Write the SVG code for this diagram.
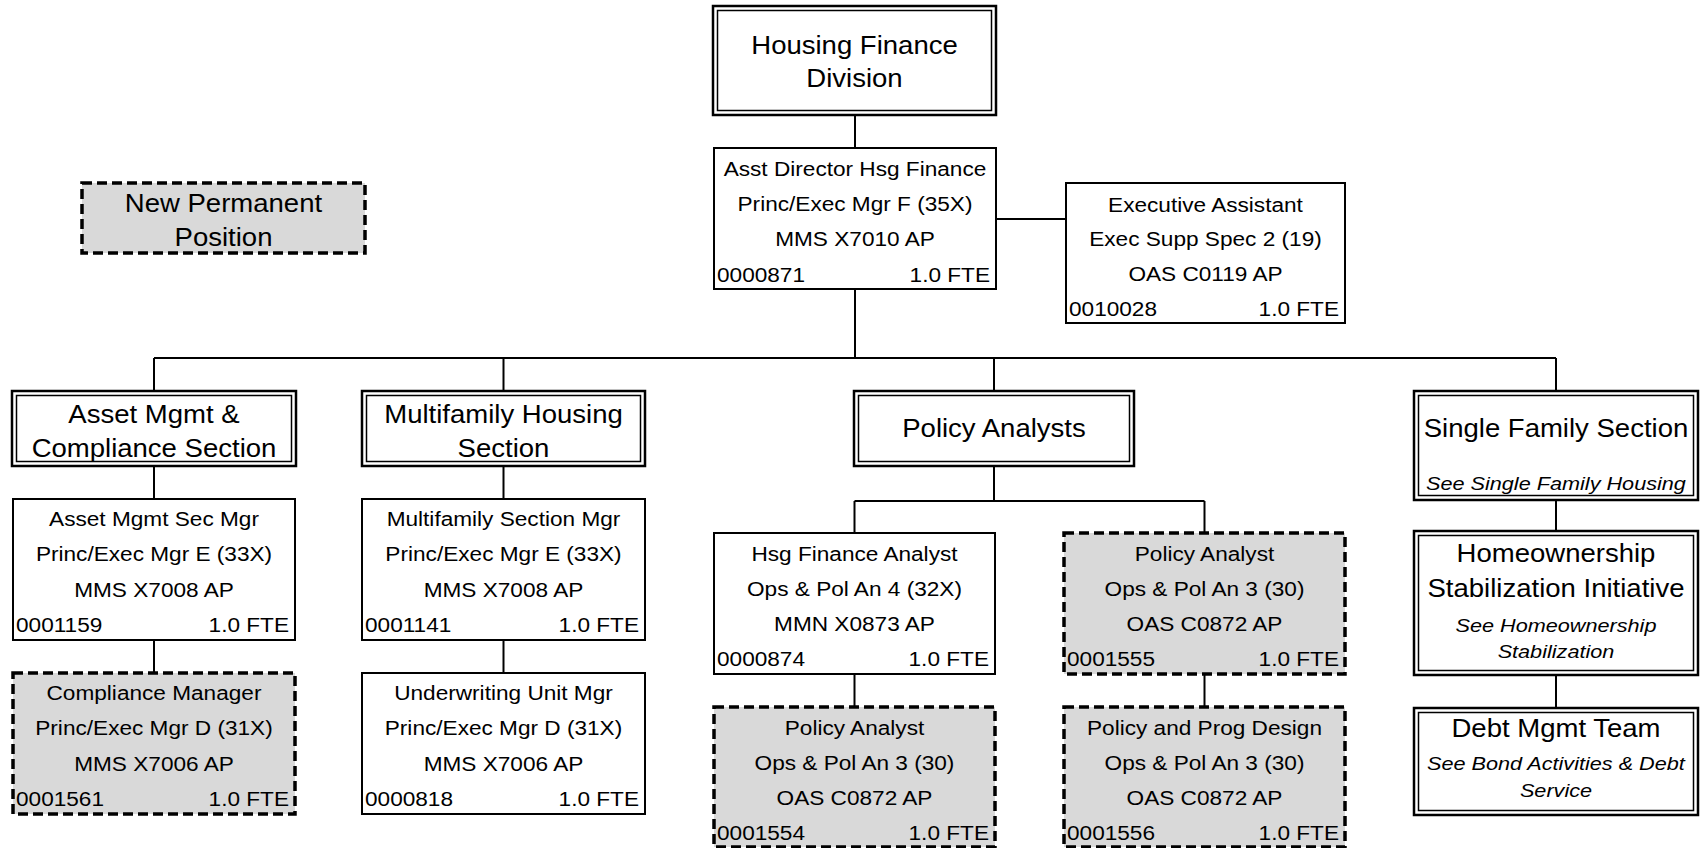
<svg xmlns="http://www.w3.org/2000/svg" width="1701" height="848" viewBox="0 0 1701 848">
<style>
text { font-family: "Liberation Sans", Arial, sans-serif; fill: #000; }
.s { font-size: 19.5px; text-anchor: middle; transform-box: fill-box; transform-origin: center; transform: scaleX(1.16); }
.sl { font-size: 19.5px; text-anchor: start; transform-box: fill-box; transform-origin: left center; transform: scaleX(1.16); }
.sr { font-size: 19.5px; text-anchor: end; transform-box: fill-box; transform-origin: right center; transform: scaleX(1.16); }
.t { font-size: 25.5px; text-anchor: middle; transform-box: fill-box; transform-origin: center; transform: scaleX(1.08); }
.i { font-size: 19px; font-style: italic; text-anchor: middle; transform-box: fill-box; transform-origin: center; transform: scaleX(1.14); }
.box { fill: #fff; stroke: #000; stroke-width: 2; }
.new { fill: #d9d9d9; stroke: #000; stroke-width: 3.5; stroke-dasharray: 10 5; }
.dbo { fill: #fff; stroke: #000; stroke-width: 2.5; }
.dbi { fill: none; stroke: #000; stroke-width: 1.5; }
.conn { fill: none; stroke: #000; stroke-width: 2; }
</style>

<g id="connectors" class="conn">
  <line x1="855" y1="115" x2="855" y2="148"/>
  <line x1="996" y1="219" x2="1066" y2="219"/>
  <line x1="855" y1="289" x2="855" y2="358"/>
  <line x1="154" y1="358" x2="1556" y2="358"/>
  <line x1="154" y1="358" x2="154" y2="391"/>
  <line x1="503.5" y1="358" x2="503.5" y2="391"/>
  <line x1="994" y1="358" x2="994" y2="391"/>
  <line x1="1556" y1="358" x2="1556" y2="391"/>
  <line x1="154" y1="466" x2="154" y2="499"/>
  <line x1="154" y1="640" x2="154" y2="673"/>
  <line x1="503.5" y1="466" x2="503.5" y2="499"/>
  <line x1="503.5" y1="640" x2="503.5" y2="673"/>
  <line x1="994" y1="466" x2="994" y2="501"/>
  <line x1="854.5" y1="501" x2="1204.5" y2="501"/>
  <line x1="854.5" y1="501" x2="854.5" y2="533"/>
  <line x1="1204.5" y1="501" x2="1204.5" y2="533"/>
  <line x1="854.5" y1="674" x2="854.5" y2="707"/>
  <line x1="1204.5" y1="674" x2="1204.5" y2="707"/>
  <line x1="1556" y1="500" x2="1556" y2="531"/>
  <line x1="1556" y1="675" x2="1556" y2="708"/>
</g>

<g id="housing-finance-division">
  <rect class="dbo" x="713" y="6" width="283" height="109"/>
  <rect class="dbi" x="717.5" y="10.5" width="274" height="100"/>
  <text class="t" x="854.5" y="54">Housing Finance</text>
  <text class="t" x="854.5" y="87">Division</text>
</g>

<g id="new-permanent-position">
  <rect class="new" x="82" y="183" width="283" height="70"/>
  <text class="t" x="223.5" y="212.5">New Permanent</text>
  <text class="t" x="223.5" y="246">Position</text>
</g>

<g id="asst-director">
  <rect class="box" x="714" y="148" width="282" height="141"/>
  <text class="s" x="855" y="176">Asst Director Hsg Finance</text>
  <text class="s" x="855" y="211">Princ/Exec Mgr F (35X)</text>
  <text class="s" x="855" y="246">MMS X7010 AP</text>
  <text class="sl" x="717" y="282">0000871</text>
  <text class="sr" x="990" y="282">1.0 FTE</text>
</g>

<g id="executive-assistant">
  <rect class="box" x="1066" y="183" width="279" height="140"/>
  <text class="s" x="1205.5" y="212">Executive Assistant</text>
  <text class="s" x="1205.5" y="246.5">Exec Supp Spec 2 (19)</text>
  <text class="s" x="1205.5" y="281.5">OAS C0119 AP</text>
  <text class="sl" x="1069" y="316.5">0010028</text>
  <text class="sr" x="1339" y="316.5">1.0 FTE</text>
</g>

<g id="asset-mgmt-section">
  <rect class="dbo" x="12" y="391" width="284" height="75"/>
  <rect class="dbi" x="16.5" y="395.5" width="275" height="66"/>
  <text class="t" x="154" y="423.5">Asset Mgmt &amp;</text>
  <text class="t" x="154" y="457">Compliance Section</text>
</g>

<g id="multifamily-section">
  <rect class="dbo" x="362" y="391" width="283" height="75"/>
  <rect class="dbi" x="366.5" y="395.5" width="274" height="66"/>
  <text class="t" x="503.5" y="423.5">Multifamily Housing</text>
  <text class="t" x="503.5" y="457">Section</text>
</g>

<g id="policy-analysts">
  <rect class="dbo" x="854" y="391" width="280" height="75"/>
  <rect class="dbi" x="858.5" y="395.5" width="271" height="66"/>
  <text class="t" x="994" y="437.5">Policy Analysts</text>
</g>

<g id="single-family-section">
  <rect class="dbo" x="1414" y="391" width="284" height="109"/>
  <rect class="dbi" x="1418.5" y="395.5" width="275" height="100"/>
  <text class="t" x="1556" y="437">Single Family Section</text>
  <text class="i" x="1556" y="490">See Single Family Housing</text>
</g>

<g id="asset-mgmt-sec-mgr">
  <rect class="box" x="13" y="499" width="282" height="141"/>
  <text class="s" x="154" y="526.5">Asset Mgmt Sec Mgr</text>
  <text class="s" x="154" y="561.5">Princ/Exec Mgr E (33X)</text>
  <text class="s" x="154" y="597">MMS X7008 AP</text>
  <text class="sl" x="16" y="632.5">0001159</text>
  <text class="sr" x="289" y="632.5">1.0 FTE</text>
</g>

<g id="compliance-manager">
  <rect class="new" x="13" y="673" width="282" height="141"/>
  <text class="s" x="154" y="700.5">Compliance Manager</text>
  <text class="s" x="154" y="735.5">Princ/Exec Mgr D (31X)</text>
  <text class="s" x="154" y="771">MMS X7006 AP</text>
  <text class="sl" x="16" y="806.5">0001561</text>
  <text class="sr" x="289" y="806.5">1.0 FTE</text>
</g>

<g id="multifamily-section-mgr">
  <rect class="box" x="362" y="499" width="283" height="141"/>
  <text class="s" x="503.5" y="526.5">Multifamily Section Mgr</text>
  <text class="s" x="503.5" y="561.5">Princ/Exec Mgr E (33X)</text>
  <text class="s" x="503.5" y="597">MMS X7008 AP</text>
  <text class="sl" x="365" y="632.5">0001141</text>
  <text class="sr" x="639" y="632.5">1.0 FTE</text>
</g>

<g id="underwriting-unit-mgr">
  <rect class="box" x="362" y="673" width="283" height="141"/>
  <text class="s" x="503.5" y="700.5">Underwriting Unit Mgr</text>
  <text class="s" x="503.5" y="735.5">Princ/Exec Mgr D (31X)</text>
  <text class="s" x="503.5" y="771">MMS X7006 AP</text>
  <text class="sl" x="365" y="806.5">0000818</text>
  <text class="sr" x="639" y="806.5">1.0 FTE</text>
</g>

<g id="hsg-finance-analyst">
  <rect class="box" x="714" y="533" width="281" height="141"/>
  <text class="s" x="854.5" y="561">Hsg Finance Analyst</text>
  <text class="s" x="854.5" y="596">Ops &amp; Pol An 4 (32X)</text>
  <text class="s" x="854.5" y="631">MMN X0873 AP</text>
  <text class="sl" x="717" y="666.5">0000874</text>
  <text class="sr" x="989" y="666.5">1.0 FTE</text>
</g>

<g id="policy-analyst-1555">
  <rect class="new" x="1064" y="533" width="281" height="141"/>
  <text class="s" x="1204.5" y="561">Policy Analyst</text>
  <text class="s" x="1204.5" y="596">Ops &amp; Pol An 3 (30)</text>
  <text class="s" x="1204.5" y="631">OAS C0872 AP</text>
  <text class="sl" x="1067" y="666.5">0001555</text>
  <text class="sr" x="1339" y="666.5">1.0 FTE</text>
</g>

<g id="policy-analyst-1554">
  <rect class="new" x="714" y="707" width="281" height="140"/>
  <text class="s" x="854.5" y="735">Policy Analyst</text>
  <text class="s" x="854.5" y="770">Ops &amp; Pol An 3 (30)</text>
  <text class="s" x="854.5" y="805">OAS C0872 AP</text>
  <text class="sl" x="717" y="840">0001554</text>
  <text class="sr" x="989" y="840">1.0 FTE</text>
</g>

<g id="policy-prog-design">
  <rect class="new" x="1064" y="707" width="281" height="140"/>
  <text class="s" x="1204.5" y="735">Policy and Prog Design</text>
  <text class="s" x="1204.5" y="770">Ops &amp; Pol An 3 (30)</text>
  <text class="s" x="1204.5" y="805">OAS C0872 AP</text>
  <text class="sl" x="1067" y="840">0001556</text>
  <text class="sr" x="1339" y="840">1.0 FTE</text>
</g>

<g id="homeownership-stabilization">
  <rect class="dbo" x="1414" y="531" width="284" height="144"/>
  <rect class="dbi" x="1418.5" y="535.5" width="275" height="135"/>
  <text class="t" x="1556" y="562">Homeownership</text>
  <text class="t" x="1556" y="597">Stabilization Initiative</text>
  <text class="i" x="1556" y="632">See Homeownership</text>
  <text class="i" x="1556" y="658">Stabilization</text>
</g>

<g id="debt-mgmt-team">
  <rect class="dbo" x="1414" y="708" width="284" height="107"/>
  <rect class="dbi" x="1418.5" y="712.5" width="275" height="98"/>
  <text class="t" x="1556" y="737">Debt Mgmt Team</text>
  <text class="i" x="1556" y="770">See Bond Activities &amp; Debt</text>
  <text class="i" x="1556" y="797">Service</text>
</g>
</svg>
